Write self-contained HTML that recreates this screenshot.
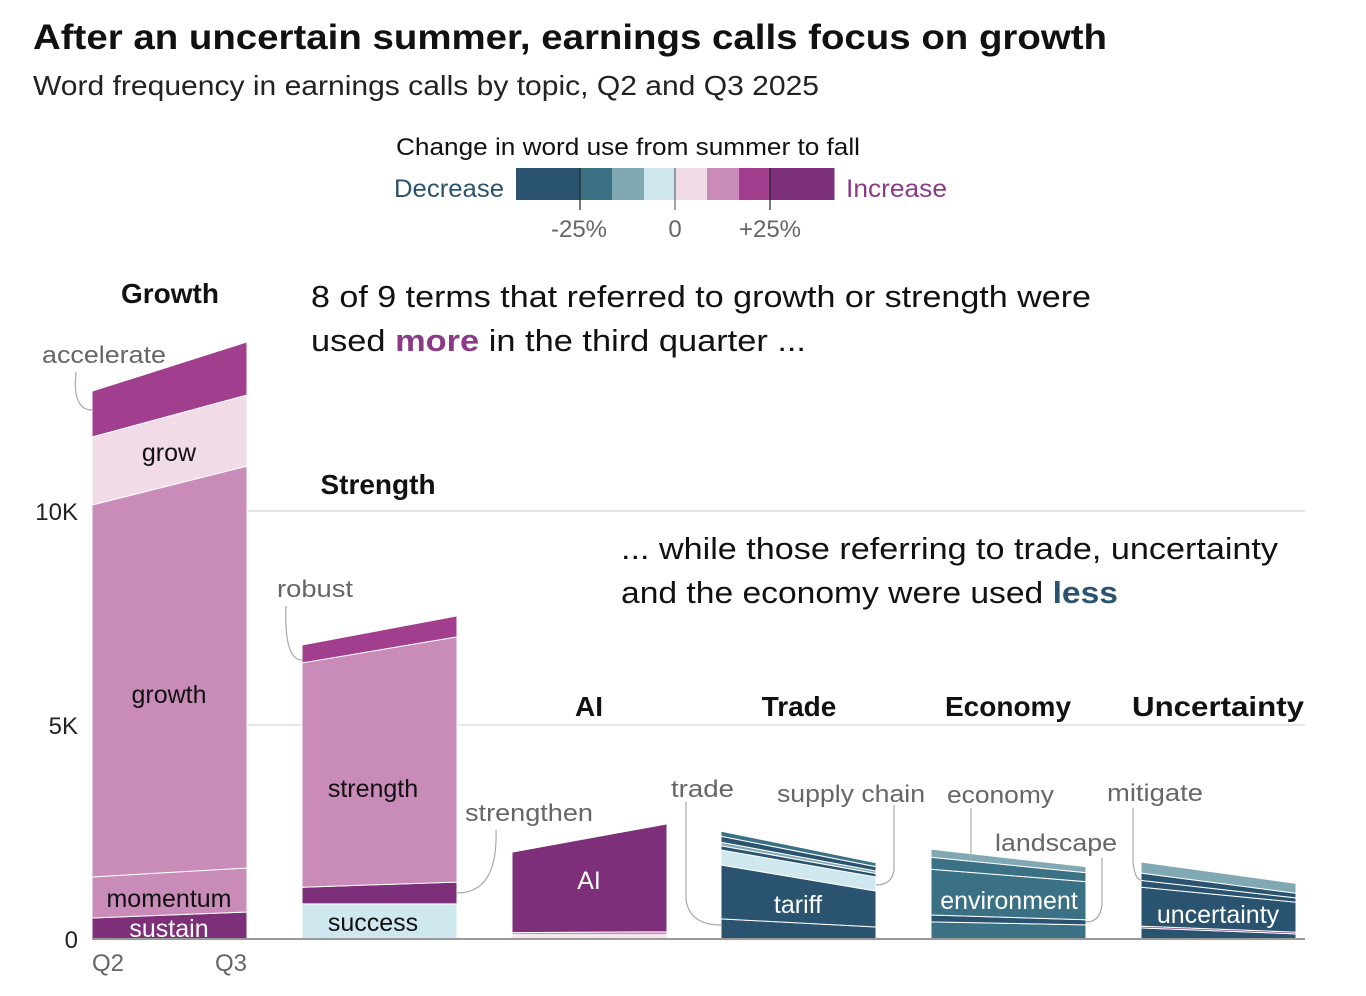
<!DOCTYPE html>
<html><head><meta charset="utf-8">
<style>
html,body{margin:0;padding:0;background:#fff;}
svg{display:block;font-family:"Liberation Sans",sans-serif;}
.lab{fill:#666;font-size:24px;}
</style></head>
<body>
<svg id="chart" width="1366" height="996" viewBox="0 0 1366 996">
<text x="33" y="49" font-size="35" font-weight="bold" fill="#111" textLength="1074" lengthAdjust="spacingAndGlyphs">After an uncertain summer, earnings calls focus on growth</text>
<text x="33" y="95" font-size="28" fill="#222" textLength="786" lengthAdjust="spacingAndGlyphs">Word frequency in earnings calls by topic, Q2 and Q3 2025</text>

<g>
<text x="396" y="155" font-size="24" fill="#111" textLength="464" lengthAdjust="spacingAndGlyphs">Change in word use from summer to fall</text>
<text x="394" y="197" font-size="25" fill="#2a5370" textLength="110" lengthAdjust="spacingAndGlyphs">Decrease</text>
<text x="846" y="197" font-size="25" fill="#8a3a86" textLength="101" lengthAdjust="spacingAndGlyphs">Increase</text>
<g id="legendCells"></g>
<line x1="580" y1="168" x2="580" y2="210" stroke="#222" stroke-width="1.2"/>
<line x1="675" y1="168" x2="675" y2="210" stroke="#666" stroke-width="1.2"/>
<line x1="770" y1="168" x2="770" y2="210" stroke="#222" stroke-width="1.2"/>
<text x="579" y="237" font-size="24" fill="#666" text-anchor="middle">-25%</text>
<text x="675" y="237" font-size="24" fill="#666" text-anchor="middle">0</text>
<text x="770" y="237" font-size="24" fill="#666" text-anchor="middle">+25%</text>
</g>

<g id="grid"></g>
<g id="bars"></g>
<line x1="92" y1="939" x2="1305" y2="939" stroke="#999" stroke-width="2"/>
<text x="108" y="971" font-size="24" fill="#666" text-anchor="middle">Q2</text>
<text x="231" y="971" font-size="24" fill="#666" text-anchor="middle">Q3</text>

<g>
<text x="311" y="307" font-size="31" fill="#111" textLength="780" lengthAdjust="spacingAndGlyphs">8 of 9 terms that referred to growth or strength were</text>
<text x="311" y="351" font-size="31" fill="#111" textLength="495" lengthAdjust="spacingAndGlyphs">used <tspan font-weight="bold" fill="#8a3a86">more</tspan> in the third quarter ...</text>
<text x="621" y="559" font-size="31" fill="#111" textLength="657" lengthAdjust="spacingAndGlyphs">... while those referring to trade, uncertainty</text>
<text x="621" y="603" font-size="31" fill="#111" textLength="497" lengthAdjust="spacingAndGlyphs">and the economy were used <tspan font-weight="bold" fill="#2a5370">less</tspan></text>
</g>

<g fill="none" stroke="#aaa" stroke-width="1.2">
<path d="M76 372 Q72 410 92 410"/>
<path d="M286 606 Q284 660 302 660"/>
<path d="M496 830 Q498 893 457 893"/>
<path d="M686 802 L686 900 Q690 925 721 925"/>
<path d="M894 805 L894 870 Q892 885 876 885"/>
<path d="M971 808 L971 860"/>
<path d="M1102 858 L1102 905 Q1100 922 1086 922"/>
<path d="M1133 808 L1133 862 Q1135 880 1141 880"/>
</g>
<g class="lab">
<text x="42" y="363" textLength="124" lengthAdjust="spacingAndGlyphs">accelerate</text>
<text x="277" y="597" textLength="76" lengthAdjust="spacingAndGlyphs">robust</text>
<text x="465" y="821" textLength="128" lengthAdjust="spacingAndGlyphs">strengthen</text>
<text x="671" y="797" textLength="63" lengthAdjust="spacingAndGlyphs">trade</text>
<text x="777" y="802" textLength="148" lengthAdjust="spacingAndGlyphs">supply chain</text>
<text x="947" y="803" textLength="107" lengthAdjust="spacingAndGlyphs">economy</text>
<text x="995" y="851" textLength="122" lengthAdjust="spacingAndGlyphs">landscape</text>
<text x="1107" y="801" textLength="96" lengthAdjust="spacingAndGlyphs">mitigate</text>
</g>
<g id="topics"></g>
</svg>
<script>
const NS='http://www.w3.org/2000/svg';
const legendColors=['#2a5370','#3a7184','#80a9b4','#cfe7ef','#f1dbe7','#c98bb8','#a23e8e','#7d3079'];
const groupNames=['Growth','Strength','AI','Trade','Economy','Uncertainty'];
const groupX=[92,302,512,721,931,1141];
const yTicks=[0,5,10];
const yTickLabels=['0','5K','10K'];
// layers bottom-up per group: term, Q2 (thousands), Q3 (thousands), color index
const growthTerms=['sustain','momentum','growth','grow','accelerate'];
const growthQ2=[0.49,0.96,8.69,1.59,1.07];
const growthQ3=[0.63,1.03,9.39,1.66,1.24];
const growthCol=[7,5,5,4,6];
const strengthTerms=['success','strengthen','strength','robust'];
const strengthQ2=[0.82,0.39,5.24,0.42];
const strengthQ3=[0.82,0.51,5.73,0.49];
const strengthCol=[3,7,5,6];
const aiTerms=['ai-a','ai-b','ai-c','AI'];
const aiQ2=[0.04,0.06,0.05,1.88];
const aiQ3=[0.04,0.06,0.07,2.52];
const aiCol=[6,4,5,7];
const tradeTerms=['trade-base','tariff','supply chain','trade-a','trade-b','trade-c','trade'];
const tradeQ2=[0.47,1.26,0.35,0.10,0.08,0.14,0.12];
const tradeQ3=[0.28,0.84,0.33,0.08,0.06,0.10,0.09];
const tradeCol=[0,0,3,0,2,0,1];
const economyTerms=['econ-base','landscape','environment','economy','econ-top'];
const economyQ2=[0.40,0.16,1.07,0.28,0.19];
const economyQ3=[0.33,0.12,0.89,0.21,0.14];
const economyCol=[1,0,1,1,2];
const uncTerms=['unc-base','unc-purple','uncertainty','unc-a','mitigate','unc-top'];
const uncQ2=[0.26,0.04,0.91,0.16,0.17,0.26];
const uncQ3=[0.12,0.04,0.70,0.10,0.11,0.23];
const uncCol=[0,7,0,0,0,2];
const inlineLabels={'growth':[169,703],'grow':[169,461],'momentum':[169,907],'sustain':[169,937],'strength':[373,797],'success':[373,931],'AI':[589,889],'tariff':[798,913],'environment':[1009,909],'uncertainty':[1218,923]};
const legendEdges=[516,580,612,644,675,707,739,770,834];

const y0=939, pxPerK=42.8, barW=155;
const Y=v=>y0-v*pxPerK;
function mk(tag,attrs,parent){const e=document.createElementNS(NS,tag);for(const k in attrs)e.setAttribute(k,attrs[k]);parent.appendChild(e);return e;}

const lg=document.getElementById('legendCells');
legendColors.forEach((c,i)=>{
  const r=mk('rect',{x:legendEdges[i],y:168,width:legendEdges[i+1]-legendEdges[i]+0.5,height:32,fill:c},lg);
  
  
});

const grid=document.getElementById('grid');
yTicks.forEach((t,i)=>{
  if(t>0){const l=mk('line',{x1:92,x2:1305,y1:Y(t),y2:Y(t),stroke:'#e6e6e6','stroke-width':2},grid);
  
  }
  const tx=mk('text',{x:78,y:Y(t)+9,'font-size':24,fill:'#222','text-anchor':'end'},grid);
  tx.textContent=yTickLabels[i];
  
  
});

const groups=[[growthTerms,growthQ2,growthQ3,growthCol],[strengthTerms,strengthQ2,strengthQ3,strengthCol],[aiTerms,aiQ2,aiQ3,aiCol],[tradeTerms,tradeQ2,tradeQ3,tradeCol],[economyTerms,economyQ2,economyQ3,economyCol],[uncTerms,uncQ2,uncQ3,uncCol]];
const bars=document.getElementById('bars');
const topics=document.getElementById('topics');
const titleX=[170,378,589,799,1008,1218];
const titleY=[303,494,716,716,716,716];
groups.forEach((g,gi)=>{
  const [terms,q2,q3,col]=g; const x1=groupX[gi], x2=x1+barW;
  let c2=0,c3=0;
  terms.forEach((t,i)=>{
    const a2=c2,a3=c3; c2+=q2[i]; c3+=q3[i];
    const p=mk('polygon',{points:`${x1},${Y(a2)} ${x2},${Y(a3)} ${x2},${Y(c3)} ${x1},${Y(c2)}`,fill:legendColors[col[i]],stroke:'#fff','stroke-width':1},bars);
    
    
    if(inlineLabels[t]){
      const pos=inlineLabels[t];
      const tx=mk('text',{x:pos[0],y:pos[1],'font-size':25,'text-anchor':'middle',fill:(col[i]===4||col[i]===5||col[i]===3)?'#111':'#fff'},bars);
      tx.textContent=t;
      
      
    }
  });
  const attrs={x:titleX[gi],y:titleY[gi],'font-size':28,'font-weight':'bold',fill:'#111','text-anchor':'middle'};
  if(gi===5){attrs.textLength=172;attrs.lengthAdjust='spacingAndGlyphs';}
  const tt=mk('text',attrs,topics);
  tt.textContent=groupNames[gi];
  
  
});
</script>
</body></html>
